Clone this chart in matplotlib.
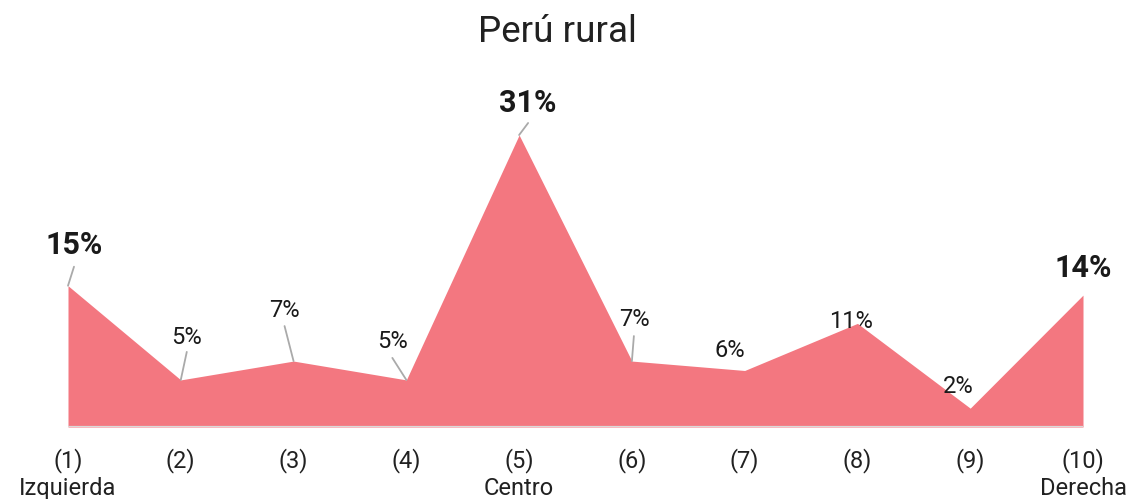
import matplotlib
matplotlib.use("Agg")
import matplotlib.pyplot as plt

plt.rcParams['font.family'] = ['Roboto', 'DejaVu Sans']

# Data
positions = [1, 2, 3, 4, 5, 6, 7, 8, 9, 10]
shares = [15, 5, 7, 5, 31, 7, 6, 11, 2, 14]
tick_labels = ["(1)\nIzquierda", "(2)", "(3)", "(4)", "(5)\nCentro",
               "(6)", "(7)", "(8)", "(9)", "(10)\nDerecha"]
highlight = [True, False, False, False, True, False, False, False, False, True]
title = "Perú rural"

# Label placement (pixel offsets from each point): text baseline and leader-line end
text_offsets = [(6, 32), (6, 36), (-9, 44), (-14, 32), (9, 23),
                (3, 35), (-15, 13), (-6, -5), (-12, 15), (0, 18)]
leader_ends = [(6, 19), (6, 28), (-9, 35), (-14, 22), (9, 12),
               (2, 25), None, None, None, None]

W, H = 1131, 499
fig = plt.figure(figsize=(W / 100, H / 100), dpi=100)
left, right, base, top = 68, 1083, 427, 135
ax = fig.add_axes([left / W, (H - base) / H, (right - left) / W, (base - top) / H])

fill_color = "#F37780"
ax.fill_between(positions, shares, 0, color=fill_color, lw=0)
ax.axhline(0, color="#DADADA", lw=1.6, zorder=3)

ax.set_xlim(1, 10)
ax.set_ylim(0, 31)
ax.set_yticks([])
ax.set_xticks(positions)
ax.set_xticklabels(tick_labels, fontsize=17, color="#212121", linespacing=1.25)
ax.tick_params(axis='x', length=0, pad=15)
for s in ax.spines.values():
    s.set_visible(False)

for i, (x, v) in enumerate(zip(positions, shares)):
    end = leader_ends[i]
    if end is not None:
        ax.annotate("", xy=(x, v), xytext=end, textcoords="offset pixels",
                    arrowprops=dict(arrowstyle="-", color="#AAAAAA", lw=1.3,
                                    shrinkA=0, shrinkB=0),
                    annotation_clip=False)
    dx, dy = text_offsets[i]
    ax.annotate(f"{v}%", xy=(x, v), xytext=(dx, dy), textcoords="offset pixels",
                ha="center", va="baseline",
                fontsize=22 if highlight[i] else 17,
                fontweight="bold" if highlight[i] else "normal",
                color="#1a1a1a", annotation_clip=False)

fig.text(557 / W, (H - 42) / H, title, ha="center", va="baseline",
         fontsize=26.5, color="#212121")

fig.savefig("out.png", dpi=100, facecolor="white")
